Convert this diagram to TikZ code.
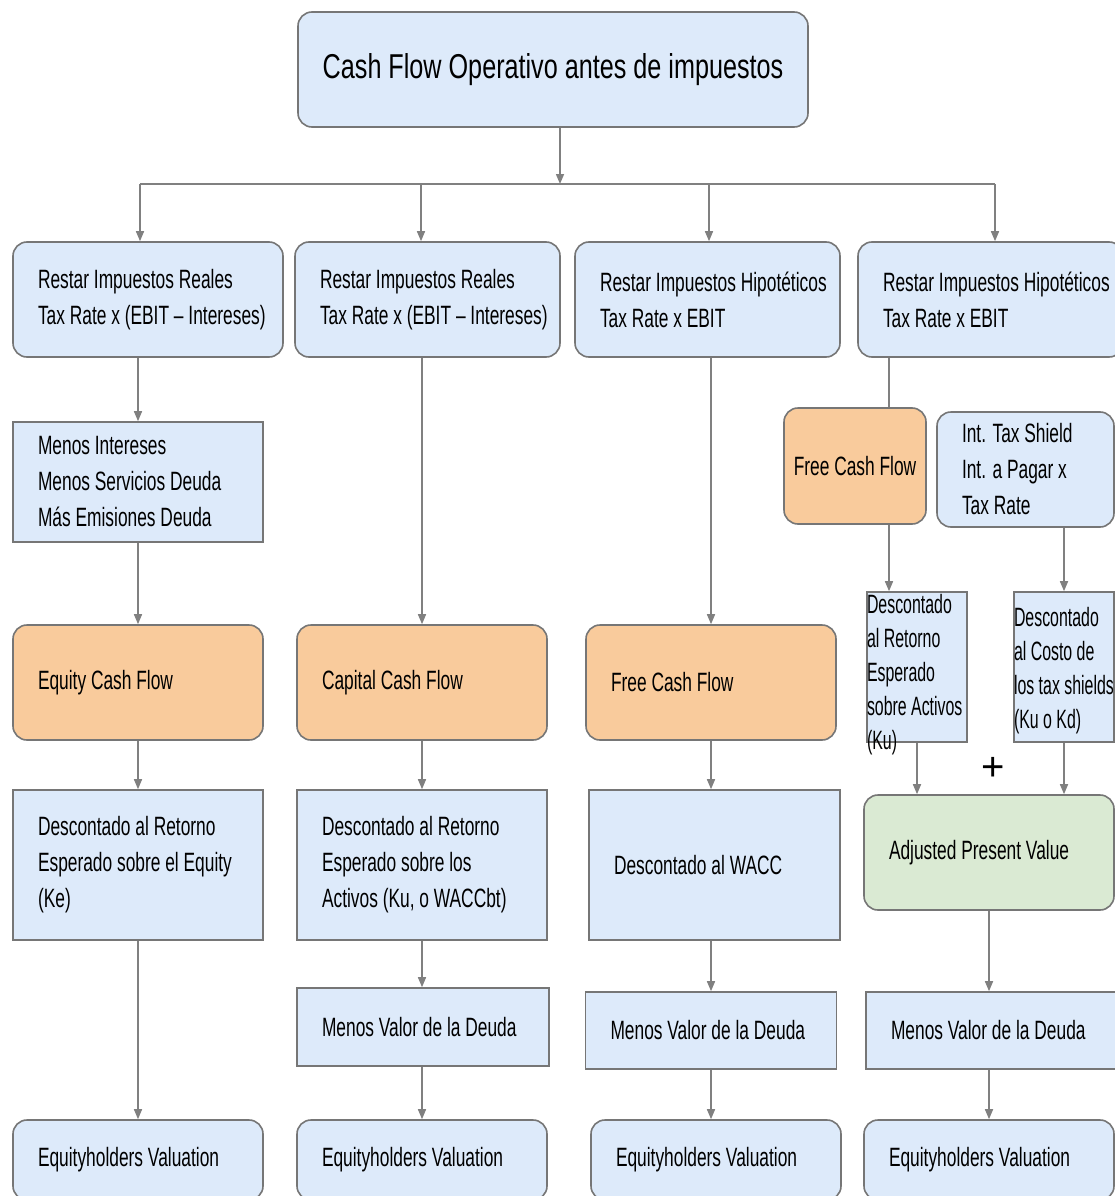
\documentclass[tikz,border=0pt]{standalone}
\usepackage{fontspec}
\setmainfont{Liberation Sans}[FakeStretch=0.655]
\newfontfamily\titlefont{Liberation Sans}[FakeStretch=0.73]
\newfontfamily\narrowfont{Liberation Sans}[FakeStretch=0.6]
\newfontfamily\plainfont{Liberation Sans}
\usetikzlibrary{arrows.meta}
\definecolor{boxblue}{RGB}{221,234,250}
\definecolor{boxorange}{RGB}{249,203,156}
\definecolor{boxgreen}{RGB}{218,234,211}
\definecolor{edgegray}{RGB}{118,118,118}
\definecolor{linkgray}{RGB}{128,128,128}

\begin{document}
\begin{tikzpicture}[x=1pt,y=-1pt,
  every node/.style={font=\fontsize{26.5}{36}\selectfont, text=black,
                     execute at begin node={\spaceskip=0pt\xspaceskip=0pt\relax}},
  box/.style={draw=edgegray, line width=1.6pt, inner xsep=25pt, inner ysep=0pt, align=left},
  rbox/.style={box, rounded corners=14pt},
  bluefill/.style={fill=boxblue},
  orangefill/.style={fill=boxorange},
  greenfill/.style={fill=boxgreen},
  sized/.style n args={2}{minimum width=#1, minimum height=#2, text width=#1-50pt},
  narrowtext/.style={inner sep=0pt, align=left, text width=100pt,
                     font=\narrowfont\fontsize{26.5}{34}\selectfont},
  link/.style={draw=linkgray, line width=1.5pt},
  arr/.style={link, -{Triangle[length=10pt,width=8pt]}},
]
\useasboundingbox[fill=white] (0,0) rectangle (1115,1196);

% top box
\node[rbox, bluefill, minimum width=510pt, minimum height=115pt, align=center, inner xsep=0pt,
      font=\titlefont\fontsize{34.5}{40}\selectfont] (top) at (553,69.5)
  {Cash Flow Operativo antes de impuestos};

% first row: tax treatments
\node[rbox, bluefill, sized={270pt}{115pt}] (b1) at (148,299.5)
  {Restar Impuestos Reales\\\mbox{Tax Rate x (EBIT -- Intereses)}};
\node[rbox, bluefill, sized={265pt}{115pt}] (b2) at (427.5,299.5)
  {Restar Impuestos Reales\\\mbox{Tax Rate x (EBIT -- Intereses)}};
\node[rbox, bluefill, sized={265pt}{115pt}] (b3) at (707.5,299.5)
  {\mbox{Restar Impuestos Hipotéticos}\\Tax Rate x EBIT};
\node[rbox, bluefill, sized={265pt}{115pt}] (b4) at (990.5,299.5)
  {\mbox{Restar Impuestos Hipotéticos}\\Tax Rate x EBIT};

% column 1: equity cash flow
\node[box, bluefill, sized={250pt}{120pt}] (mi) at (138,482)
  {Menos Intereses\\\mbox{Menos Servicios Deuda}\\\mbox{Más Emisiones Deuda}};
\node[rbox, orangefill, sized={250pt}{115pt}] (eq) at (138,682.5) {Equity Cash Flow};
\node[box, bluefill, sized={250pt}{150pt}] (d1) at (138,865)
  {Descontado al Retorno\\\mbox{Esperado sobre el Equity}\\(Ke)};
\node[rbox, bluefill, sized={250pt}{80pt}] (ev1) at (138,1160) {Equityholders Valuation};

% column 2: capital cash flow
\node[rbox, orangefill, sized={250pt}{115pt}] (cc) at (422,682.5) {Capital Cash Flow};
\node[box, bluefill, sized={250pt}{150pt}] (d2) at (422,865)
  {Descontado al Retorno\\Esperado sobre los\\\mbox{Activos (Ku, o WACCbt)}};
\node[box, bluefill, sized={252pt}{78pt}] (mv2) at (423,1027) {\mbox{Menos Valor de la Deuda}};
\node[rbox, bluefill, sized={250pt}{80pt}] (ev2) at (422,1160) {Equityholders Valuation};

% column 3: free cash flow with WACC
\node[rbox, orangefill, sized={250pt}{115pt}] (f3) at (711,682.5) {Free Cash Flow};
\node[box, bluefill, sized={251pt}{150pt}] (d3) at (714.5,865) {Descontado al WACC};
\node[box, bluefill, sized={251pt}{77pt}] (mv3) at (711,1030.5) {\mbox{Menos Valor de la Deuda}};
\node[rbox, bluefill, sized={250pt}{80pt}] (ev3) at (716,1160) {Equityholders Valuation};

% column 4: adjusted present value
\node[rbox, orangefill, minimum width=142pt, minimum height=116pt, inner xsep=0pt, align=center] (f4) at (855,466)
  {Free Cash Flow};
\node[rbox, bluefill, sized={177pt}{115pt}] (ts) at (1025.5,469.5)
  {Int. Tax Shield\\Int. a Pagar x\\Tax Rate};
\node[box, bluefill, minimum width=100pt, minimum height=150pt, inner sep=0pt] (dku) at (917,667) {};
\node[narrowtext] (dkutext) at ([yshift=-8pt]dku.center)
  {\mbox{Descontado}\\\mbox{al Retorno}\\\mbox{Esperado}\\\mbox{sobre Activos}\\(Ku)};
\node[box, bluefill, minimum width=100pt, minimum height=150pt, inner sep=0pt] (dkd) at (1064,667) {};
\node[narrowtext] (dkdtext) at ([yshift=-4pt]dkd.center)
  {\mbox{Descontado}\\\mbox{al Costo de}\\\mbox{los tax shields}\\\mbox{(Ku o Kd)}};
\node[font=\plainfont\fontsize{40}{40}\selectfont, inner sep=0pt] (plus) at (993,769) {+};
\node[rbox, greenfill, sized={250pt}{115pt}] (apv) at (989,852.5) {\mbox{Adjusted Present Value}};
\node[box, bluefill, sized={256pt}{77pt}] (mv4) at (994,1030.5) {\mbox{Menos Valor de la Deuda}};
\node[rbox, bluefill, sized={250pt}{80pt}] (ev4) at (989,1160) {Equityholders Valuation};

% distribution bus under the top box
\coordinate (bus0) at (560,184);
\coordinate (busL) at (140,184);
\coordinate (bus2) at (421,184);
\coordinate (bus3) at (709,184);
\coordinate (busR) at (995,184);
\coordinate (c4) at (889,400);

\draw[arr] (top.south -| bus0) -- (bus0);
\draw[link] (busL) -- (busR);
\draw[arr] (busL) -- (busL |- b1.north);
\draw[arr] (bus2) -- (bus2 |- b2.north);
\draw[arr] (bus3) -- (bus3 |- b3.north);
\draw[arr] (busR) -- (busR |- b4.north);

% column 1
\draw[arr] (b1.south -| mi.north) -- (mi.north);
\draw[arr] (mi.south) -- (eq.north);
\draw[arr] (eq.south) -- (d1.north);
\draw[arr] (d1.south) -- (ev1.north);

% column 2
\draw[arr] (b2.south -| cc.north) -- (cc.north);
\draw[arr] (cc.south) -- (d2.north);
\draw[arr] (d2.south) -- (d2.south |- mv2.north);
\draw[arr] (mv2.south -| ev2.north) -- (ev2.north);

% column 3
\draw[arr] (b3.south -| f3.north) -- (f3.north);
\draw[arr] (f3.south) -- (f3.south |- d3.north);
\draw[arr] (d3.south -| mv3.north) -- (mv3.north);
\draw[arr] (mv3.south) -- (mv3.south |- ev3.north);

% column 4
\draw[link] (b4.south -| c4) -- (f4.north -| c4);
\draw[arr] (f4.south -| c4) -- (dku.north -| c4);
\draw[arr] (ts.south -| dkd.north) -- (dkd.north);
\draw[arr] (dku.south) -- (dku.south |- apv.north);
\draw[arr] (dkd.south) -- (dkd.south |- apv.north);
\draw[arr] (apv.south) -- (apv.south |- mv4.north);
\draw[arr] (mv4.south -| ev4.north) -- (ev4.north);
\end{tikzpicture}
\end{document}
